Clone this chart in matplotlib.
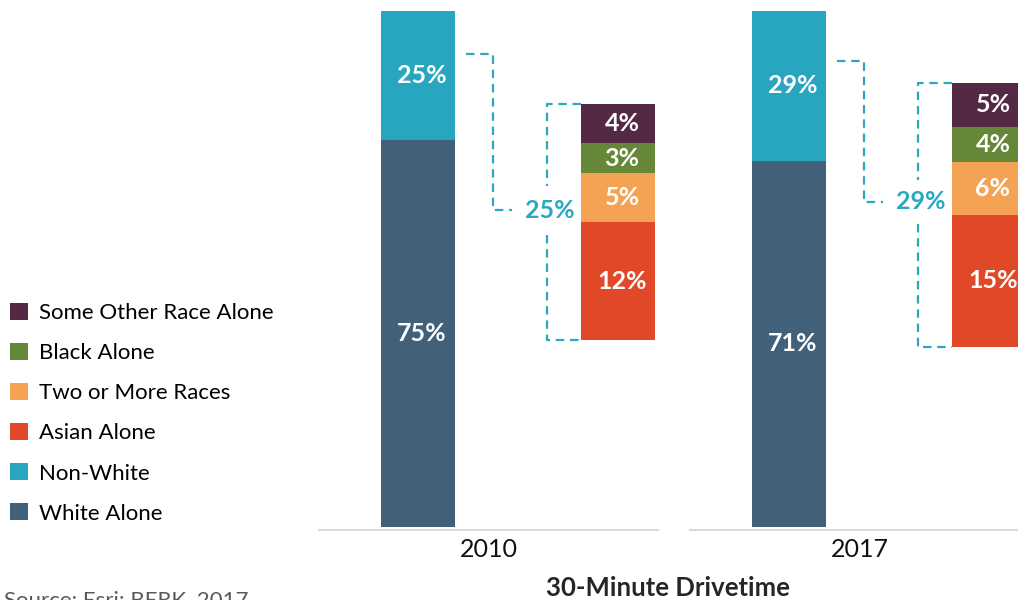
import matplotlib
matplotlib.use("Agg")
import matplotlib.pyplot as plt
from matplotlib.patches import Patch

# === DATA ===
years = ["2010", "2017"]
white_alone = [75, 71]
non_white = [25, 29]
asian_alone = [12, 15]
two_or_more = [5, 6]
black_alone = [3, 4]
other_race = [4, 5]

legend_labels = ["Some Other Race Alone", "Black Alone", "Two or More Races",
                 "Asian Alone", "Non-White", "White Alone"]

# === STYLE ===
C_WHITE = "#41617A"
C_NONWHITE = "#29A6BF"
C_ASIAN = "#E04827"
C_TWO = "#F4A354"
C_BLACK = "#668737"
C_OTHER = "#532945"
C_DASH = "#2BA8C1"
legend_colors = [C_OTHER, C_BLACK, C_TWO, C_ASIAN, C_NONWHITE, C_WHITE]

FONT = ["Lato", "DejaVu Sans"]
plt.rcParams["font.family"] = FONT

W, H = 1018, 600
fig = plt.figure(figsize=(W / 100, H / 100), dpi=100)

# panel layout (pixels): left edge of each small chart, width, axis line position
panel_left = [319, 690]
panel_w = 339
axis_px = 530
# breakdown bar: bottom pixel and pixels per percent, per panel
bd_bottom_px = [340, 347]
bd_scale = [9.83, 8.8]

main_scale = 5.16  # pixels per percent on the main bar
bar_w = 0.37
LBL = 18

for i, yr in enumerate(years):
    ax = fig.add_axes([panel_left[i] / W, (H - axis_px) / H, panel_w / W, axis_px / H])
    lo = -(axis_px - 527) / main_scale
    ax.set_ylim(lo, lo + axis_px / main_scale)
    ax.set_xlim(-0.495, 1.2)

    # main stacked bar
    ax.bar(0, white_alone[i], width=bar_w, color=C_WHITE)
    ax.bar(0, non_white[i], width=bar_w, bottom=white_alone[i], color=C_NONWHITE)
    ax.text(0.02, white_alone[i] / 2, f"{white_alone[i]}%", color="white",
            fontsize=LBL, fontweight="bold", ha="center", va="center")
    ax.text(0.02, white_alone[i] + non_white[i] / 2, f"{non_white[i]}%", color="white",
            fontsize=LBL, fontweight="bold", ha="center", va="center")

    for s in ["top", "left", "right"]:
        ax.spines[s].set_visible(False)
    ax.spines["bottom"].set_color("#D9D9D9")
    ax.spines["bottom"].set_linewidth(1.5)
    ax.set_yticks([])
    ax.set_xticks([])
    ax.set_xlabel(yr, fontsize=18, color="#111111", labelpad=6)

    # breakdown bar on its own scale
    tw = ax.twinx()
    tlo = -(axis_px - bd_bottom_px[i]) / bd_scale[i]
    tw.set_ylim(tlo, tlo + axis_px / bd_scale[i])
    tw.set_yticks([])
    for s in tw.spines.values():
        s.set_visible(False)

    parts = [asian_alone[i], two_or_more[i], black_alone[i], other_race[i]]
    cols = [C_ASIAN, C_TWO, C_BLACK, C_OTHER]
    base = 0
    for v, c in zip(parts, cols):
        tw.bar(1, v, width=bar_w, bottom=base, color=c)
        tw.text(1.02, base + v / 2, f"{v}%", color="white", fontsize=LBL,
                fontweight="bold", ha="center", va="center")
        base += v
    total = base

    # dashed connectors
    dash_kw = dict(color=C_DASH, lw=1.6, dashes=(3.8, 2.6), clip_on=False)
    label_y = 0.55 * total
    gap = 2.5
    # label y expressed in main-axis coordinates
    _, label_y_main = ax.transData.inverted().transform(
        tw.transData.transform((0, label_y)))
    top_y = white_alone[i] + non_white[i] * 2 / 3
    ax.plot([0.24, 0.375, 0.375, 0.47],
            [top_y, top_y, label_y_main, label_y_main], **dash_kw)
    tw.text(0.66, label_y, f"{non_white[i]}%", color=C_DASH, fontsize=LBL,
            fontweight="bold", ha="center", va="center")
    bx = 0.645
    tw.plot([1 - bar_w / 2, bx, bx], [total, total, label_y + gap], **dash_kw)
    tw.plot([bx, bx, 1 - bar_w / 2], [label_y - gap, 0, 0], **dash_kw)

# legend
handles = [Patch(facecolor=c, edgecolor="none") for c in legend_colors]
fig.legend(handles, legend_labels, loc="upper left",
           bbox_to_anchor=(10 / W, 1 - 303 / H), frameon=False, fontsize=16,
           handlelength=0.81, handleheight=0.81, handletextpad=0.5,
           labelspacing=0.89, borderpad=0, borderaxespad=0)

fig.text(668 / W, 1 - 588 / H, "30-Minute Drivetime", fontsize=18.5,
         fontweight="bold", color="#262626", ha="center", va="center")
fig.text(4 / W, -6 / H, "Source: Esri; BERK, 2017", fontsize=16,
         color="#595959", ha="left", va="baseline")

fig.savefig("out.png", dpi=100)
